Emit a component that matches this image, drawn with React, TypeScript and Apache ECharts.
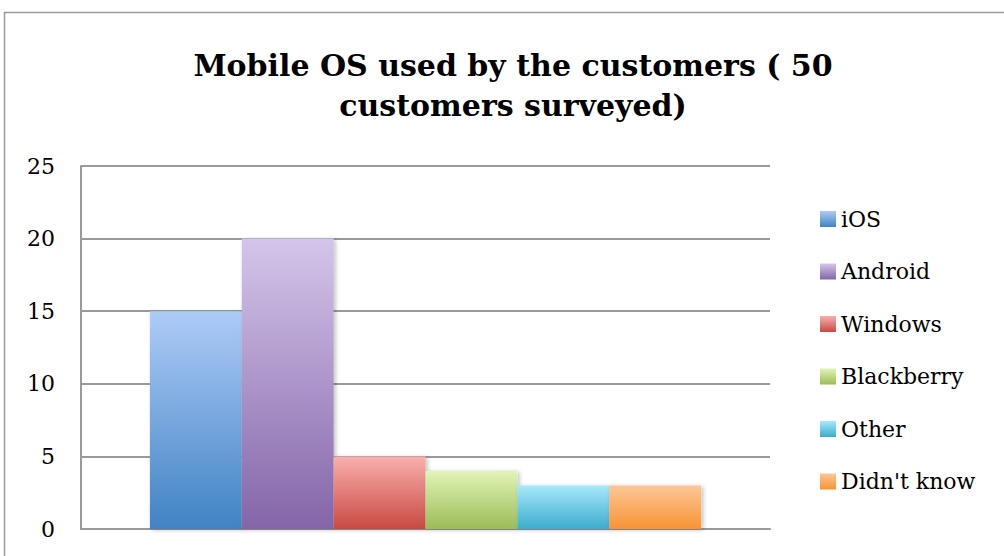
import React, { useEffect, useRef } from "react";
import * as echarts from "echarts";

const titleText = "Mobile OS used by the customers ( 50\ncustomers surveyed)";
const categories = ["Customers"];
const seriesNames = ["iOS", "Android", "Windows", "Blackberry", "Other", "Didn't know"];
const seriesValues = [15, 20, 5, 4, 3, 3];
const topColors = ["#aecbf7", "#d4c5ea", "#f9b0ae", "#e1f4b7", "#a8e8fc", "#fdc698"];
const bottomColors = ["#4183c4", "#8465a8", "#c94942", "#9cbc56", "#3badcd", "#f79433"];
const yTicks = { min: 0, max: 25, interval: 5 };

export default function App() {
  const ref = useRef<HTMLDivElement>(null);
  useEffect(() => {
    if (!ref.current) return;
    const chart = echarts.init(ref.current, null, { renderer: "svg" });
    const series = seriesNames.map((name, i) => ({
      name,
      type: "bar",
      data: [seriesValues[i]],
      barGap: "0%",
      barCategoryGap: "20%",
      itemStyle: {
        color: new echarts.graphic.LinearGradient(0, 0, 0, 1, [
          { offset: 0, color: topColors[i] },
          { offset: 1, color: bottomColors[i] },
        ]),
        shadowBlur: 4,
        shadowColor: "rgba(0,0,0,0.25)",
        shadowOffsetX: 2,
        shadowOffsetY: 1,
      },
    }));
    chart.setOption({
      animation: false,
      backgroundColor: "#ffffff",
      graphic: [
        {
          type: "rect",
          shape: { x: 4.5, y: 12.5, width: 1100, height: 600 },
          style: { fill: "none", stroke: "#9a9a9a", lineWidth: 1.5 },
          silent: true,
        },
        {
          type: "text",
          x: 513,
          y: 45,
          style: {
            text: titleText,
            fontFamily: "DejaVu Serif",
            fontWeight: "bold",
            fontSize: 30,
            lineHeight: 40,
            fill: "#000",
            align: "center",
            verticalAlign: "top",
          },
        },
      ],
      legend: {
        orient: "vertical",
        left: 815,
        top: 203,
        icon: "rect",
        itemWidth: 16,
        itemHeight: 16,
        itemGap: 30.5,
        textStyle: {
          fontFamily: "DejaVu Serif",
          fontSize: 22,
          lineHeight: 22,
          color: "#000",
        },
        data: seriesNames,
      },
      grid: { left: 81, top: 166, right: 234, bottom: 27, containLabel: false },
      xAxis: {
        type: "category",
        data: categories,
        axisLabel: { show: false },
        axisTick: { show: false },
        axisLine: { show: true, lineStyle: { color: "#9a9a9a", width: 2 } },
      },
      yAxis: {
        type: "value",
        min: yTicks.min,
        max: yTicks.max,
        interval: yTicks.interval,
        axisLine: { show: true, lineStyle: { color: "#9a9a9a", width: 2 } },
        axisTick: { show: false },
        axisLabel: {
          fontFamily: "DejaVu Serif",
          fontSize: 22,
          color: "#000",
          margin: 26,
        },
        splitLine: { show: true, lineStyle: { color: "#9a9a9a", width: 2 } },
      },
      series,
    });
    return () => chart.dispose();
  }, []);
  return (
    <div
      ref={ref}
      style={{ position: "fixed", left: 0, top: 0, width: 1004, height: 556 }}
    />
  );
}
